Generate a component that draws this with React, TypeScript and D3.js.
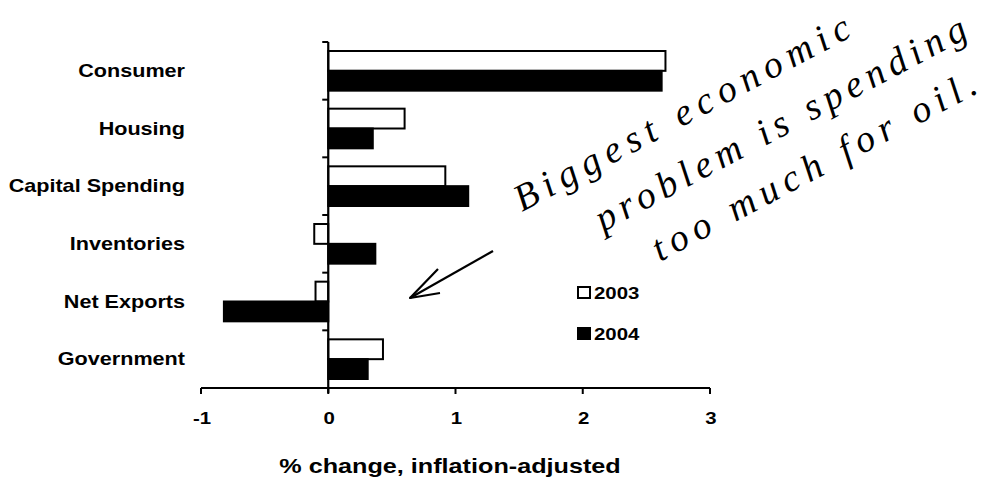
import React, { useEffect, useRef } from 'react';
import * as d3 from 'd3';

const categories = ['Consumer', 'Housing', 'Capital Spending', 'Inventories', 'Net Exports', 'Government'];
const years = ['2003', '2004'];
const values2003 = [2.65, 0.6, 0.92, -0.11, -0.1, 0.43];
const values2004 = [2.62, 0.35, 1.1, 0.37, -0.82, 0.31];
const xTicks = [-1, 0, 1, 2, 3];
const axisTitle = '% change, inflation-adjusted';
const noteLines = ['Biggest economic', 'problem is spending', 'too much for oil.'];

const W = 992;
const H = 479;

const App: React.FC = () => {
    const svgRef = useRef<SVGSVGElement>(null);

    useEffect(() => {
        if (!svgRef.current) return;
        const svg = d3.select(svgRef.current);
        svg.selectAll('*').remove();

        const font = '"Liberation Sans", Arial, sans-serif';
        // the scanned labels are wider than plain Arial bold
        const stretch = 1.2;

        const label = (px: number, py: number, txt: string, size: number, anchor = 'start') =>
            svg.append('text')
                .attr('transform', `translate(${px},${py}) scale(${stretch},1)`)
                .attr('text-anchor', anchor)
                .style('font-family', font)
                .style('font-weight', 'bold')
                .style('font-size', `${size}px`)
                .text(txt);

        const x = d3.scaleLinear().domain([-1, 3]).range([201, 710]);
        const y = d3.scaleBand().domain(categories).range([42, 388]).padding(0);
        const sub = d3.scaleBand().domain(years).range([9, y.bandwidth() - 9]).padding(0);

        const rows = categories.map((c, i) => ({ c, v: [values2003[i], values2004[i]] }));

        // bars
        const g = svg.append('g');
        rows.forEach(r => {
            years.forEach((yr, k) => {
                const v = r.v[k];
                g.append('rect')
                    .attr('x', x(Math.min(0, v)))
                    .attr('y', (y(r.c) || 0) + (sub(yr) || 0))
                    .attr('width', Math.abs(x(v) - x(0)))
                    .attr('height', sub.bandwidth())
                    .attr('fill', k === 0 ? '#fff' : '#000')
                    .attr('stroke', '#000')
                    .attr('stroke-width', 2);
            });
        });

        // y axis line + ticks at band edges
        const axisY = 388;
        svg.append('line')
            .attr('x1', x(0)).attr('x2', x(0))
            .attr('y1', 42).attr('y2', axisY + 5)
            .attr('stroke', '#000').attr('stroke-width', 2.2);
        const edges = categories.map(c => y(c) || 0);
        svg.selectAll('.ytick').data(edges).enter().append('line')
            .attr('class', 'ytick')
            .attr('x1', x(0) - 6).attr('x2', x(0))
            .attr('y1', d => d).attr('y2', d => d)
            .attr('stroke', '#000').attr('stroke-width', 2);

        // x axis
        svg.append('line')
            .attr('x1', x(-1)).attr('x2', x(3))
            .attr('y1', axisY).attr('y2', axisY)
            .attr('stroke', '#000').attr('stroke-width', 2);
        svg.selectAll('.xtick').data(xTicks).enter().append('line')
            .attr('class', 'xtick')
            .attr('x1', d => x(d)).attr('x2', d => x(d))
            .attr('y1', axisY).attr('y2', axisY + 6)
            .attr('stroke', '#000').attr('stroke-width', 2);
        xTicks.forEach(t => label(x(t) + 1, 424, t.toString(), 17, 'middle'));

        label(450, 473, axisTitle, 21, 'middle');

        // category labels
        categories.forEach(c => label(185, (y(c) || 0) + y.bandwidth() / 2 + 6, c, 18, 'end'));

        // legend
        years.forEach((yr, k) => {
            const ly = 287 + k * 41;
            svg.append('rect')
                .attr('x', 578).attr('y', ly)
                .attr('width', 12).attr('height', 11)
                .attr('fill', k === 0 ? '#fff' : '#000')
                .attr('stroke', '#000').attr('stroke-width', 2);
            label(594, ly + 12, yr, 17);
        });

        // handwritten note
        const notePos = [
            { x: 522, y: 212, len: 375 },
            { x: 603, y: 232, len: 415 },
            { x: 660, y: 262, len: 362 },
        ];
        noteLines.forEach((t, i) => {
            const p = notePos[i];
            svg.append('text')
                .attr('transform', `translate(${p.x},${p.y}) rotate(-28)`)
                .attr('textLength', p.len)
                .attr('lengthAdjust', 'spacing')
                .style('font-family', '"Liberation Serif", "DejaVu Serif", serif')
                .style('font-style', 'italic')
                .style('font-size', '38px')
                .style('fill', '#000')
                .text(t);
        });

        // arrow
        const arrow = d3.line();
        svg.append('path')
            .attr('d', arrow([[493, 251], [410, 298]]) as string)
            .attr('fill', 'none').attr('stroke', '#000').attr('stroke-width', 2.2);
        svg.append('path')
            .attr('d', arrow([[438, 269], [410, 298], [440, 293]]) as string)
            .attr('fill', 'none').attr('stroke', '#000').attr('stroke-width', 2.2)
            .attr('stroke-linejoin', 'round');
    }, []);

    return (
        <svg
            ref={svgRef}
            width={W}
            height={H}
            style={{ position: 'absolute', left: 0, top: 0, background: '#fff' }}
        />
    );
};

export default App;
